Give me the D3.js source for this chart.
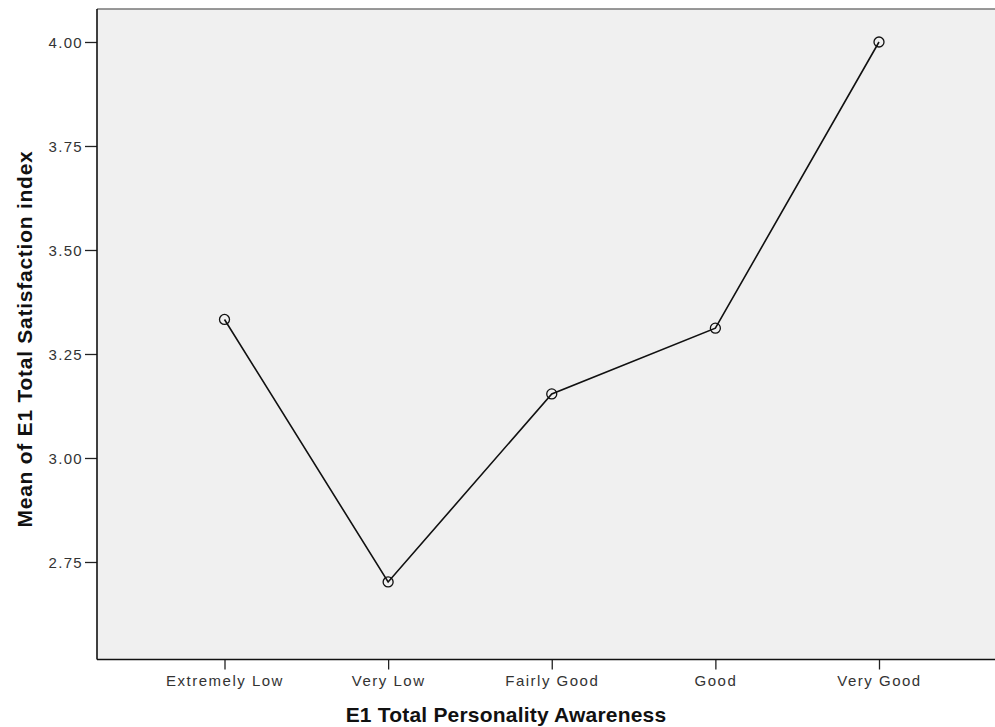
<!DOCTYPE html>
<html><head><meta charset="utf-8">
<script src="https://cdn.jsdelivr.net/npm/d3@7"></script>
<style>body{margin:0;background:#fff;} svg{display:block;}</style>
</head><body>
<svg id="c" width="995" height="727"></svg>
<script>
const categories = ["Extremely Low", "Very Low", "Fairly Good", "Good", "Very Good"];
const means = [3.333, 2.702, 3.154, 3.312, 4.000];
const yTicks = [2.75, 3.00, 3.25, 3.50, 3.75, 4.00];
const xTitle = "E1 Total Personality Awareness";
const yTitle = "Mean of E1 Total Satisfaction index";

const svg = d3.select("#c");
const plot = {left: 97, top: 9, right: 996, bottom: 659.5};
const x = d3.scalePoint().domain(categories).range([224.5, 879]);
const y = d3.scaleLinear().domain([2.5156, 4.0793]).range([plot.bottom, plot.top]);

svg.append("rect").attr("x", plot.left).attr("y", plot.top)
  .attr("width", plot.right - plot.left).attr("height", plot.bottom - plot.top)
  .attr("fill", "#f0f0f0");
svg.append("line").attr("x1", plot.left).attr("x2", plot.right)
  .attr("y1", plot.top).attr("y2", plot.top).attr("stroke", "#777").attr("stroke-width", 1.5);

const font = "Arial, 'Liberation Sans', sans-serif";
const yAxis = svg.append("g").attr("transform", `translate(${plot.left},0)`)
  .call(d3.axisLeft(y).tickValues(yTicks).tickFormat(d3.format(".2f")).tickSize(12).tickPadding(2));
yAxis.select(".domain").remove();
yAxis.selectAll(".tick line").attr("stroke", "#222").attr("stroke-width", 1.3);
yAxis.selectAll("text").attr("font-family", font).attr("font-size", 15)
  .attr("letter-spacing", 1.3).attr("fill", "#333").attr("dy", "0.4em");

const xAxis = svg.append("g").attr("transform", `translate(0,${plot.bottom})`)
  .call(d3.axisBottom(x).tickSize(10).tickPadding(5));
xAxis.select(".domain").remove();
xAxis.selectAll(".tick line").attr("stroke", "#222").attr("stroke-width", 1.3);
xAxis.selectAll("text").attr("font-family", font).attr("font-size", 15)
  .attr("letter-spacing", 1.5).attr("fill", "#333").attr("y", 26).attr("dy", 0);

svg.append("line").attr("x1", plot.left).attr("x2", plot.left)
  .attr("y1", plot.top).attr("y2", plot.bottom).attr("stroke", "#111").attr("stroke-width", 1.6);
svg.append("line").attr("x1", plot.left).attr("x2", plot.right)
  .attr("y1", plot.bottom).attr("y2", plot.bottom).attr("stroke", "#111").attr("stroke-width", 1.6);

const line = d3.line().x((d, i) => x(categories[i])).y(d => y(d));
svg.append("path").datum(means).attr("d", line)
  .attr("fill", "none").attr("stroke", "#111").attr("stroke-width", 1.6);
svg.selectAll("circle.pt").data(means).enter().append("circle").attr("class", "pt")
  .attr("cx", (d, i) => x(categories[i])).attr("cy", d => y(d)).attr("r", 5)
  .attr("fill", "none").attr("stroke", "#111").attr("stroke-width", 1.3);

svg.append("text").attr("x", 506).attr("y", 722).attr("text-anchor", "middle")
  .attr("font-family", font).attr("font-weight", "bold").attr("font-size", 21)
  .attr("letter-spacing", 0.2).attr("fill", "#111")
  .text(xTitle);
svg.append("text").attr("transform", "translate(32,339) rotate(-90)").attr("text-anchor", "middle")
  .attr("font-family", font).attr("font-weight", "bold").attr("font-size", 21)
  .attr("letter-spacing", 0.75).attr("fill", "#111")
  .text(yTitle);
</script>
</body></html>
